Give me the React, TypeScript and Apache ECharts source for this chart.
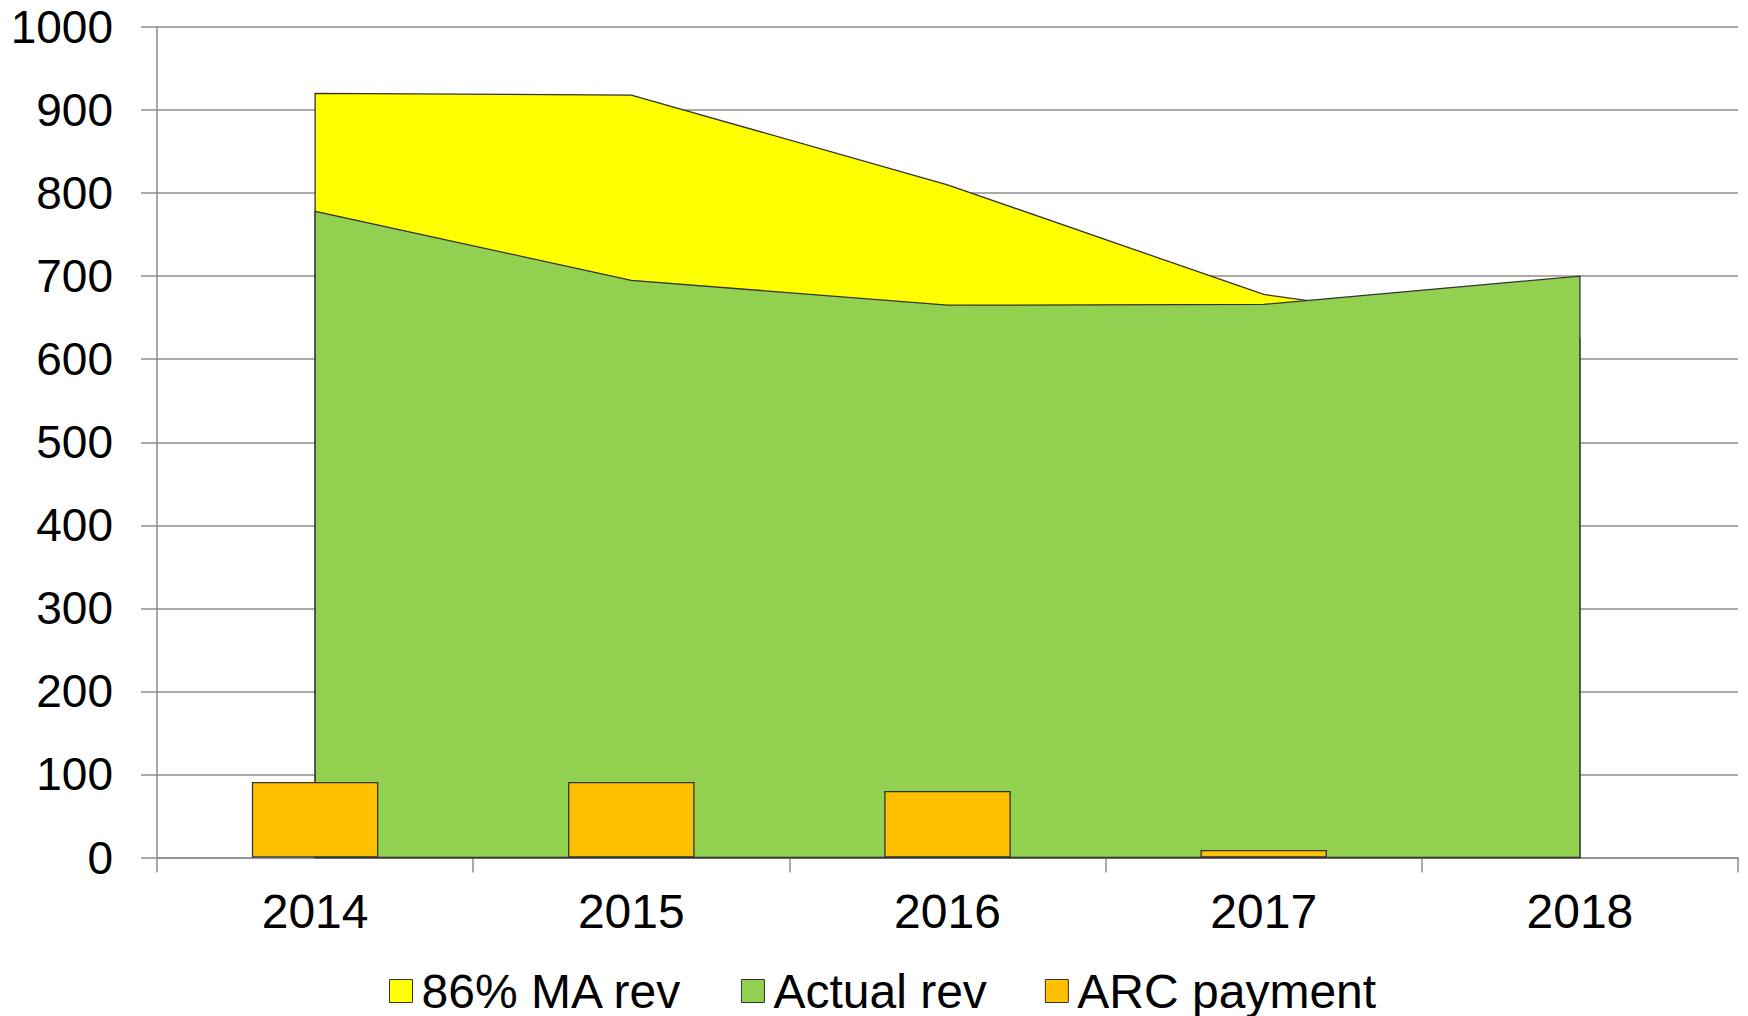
import React, { useEffect, useRef } from "react";
import * as echarts from "echarts";

const categories = ["2014", "2015", "2016", "2017", "2018"];
const maRev = [920, 918, 810, 678, 625];
const actualRev = [778, 695, 665, 666, 700];
const arcPayment: (number | null)[] = [91, 91, 80, 9, null];

const FONT = "'Liberation Sans', Arial, sans-serif";

function areaSeries(name: string, values: number[], color: string) {
  return {
    name,
    type: "custom",
    data: values.map((v, i) => [i, v]),
    encode: { x: 0, y: 1 },
    itemStyle: { color },
    renderItem: (params: any, api: any) => {
      if (params.dataIndex !== 0) return null;
      const pts: number[][] = [];
      pts.push(api.coord([0, 0]));
      values.forEach((v, i) => pts.push(api.coord([i, v])));
      pts.push(api.coord([values.length - 1, 0]));
      return {
        type: "polygon",
        shape: { points: pts },
        style: { fill: color, stroke: "#333333", lineWidth: 1.3 },
      };
    },
  };
}

export default function App() {
  const ref = useRef<HTMLDivElement>(null);
  useEffect(() => {
    const chart = echarts.init(ref.current!, null, { renderer: "svg" });
    chart.setOption({
      animation: false,
      backgroundColor: "#ffffff",
      textStyle: { fontFamily: FONT },
      grid: {
        left: 157,
        right: 10,
        top: 27,
        bottom: 158.5,
        containLabel: false,
        outerBoundsMode: "none",
      },
      legend: {
        left: 389,
        top: 967,
        padding: 0,
        icon: "rect",
        itemWidth: 23,
        itemHeight: 23,
        itemGap: 58,
        textStyle: {
          fontSize: 48,
          lineHeight: 48,
          color: "#000",
          fontFamily: FONT,
          padding: [0, 0, 0, 4],
        },
        data: [
          { name: "86% MA rev", itemStyle: { color: "#FFFF00", borderColor: "#333", borderWidth: 1 } },
          { name: "Actual rev", itemStyle: { color: "#92D050", borderColor: "#333", borderWidth: 1 } },
          { name: "ARC payment", itemStyle: { color: "#FFC000", borderColor: "#333", borderWidth: 1 } },
        ],
      },
      xAxis: {
        type: "category",
        data: categories,
        boundaryGap: true,
        axisLine: { show: true, lineStyle: { color: "#8c8c8c", width: 1.5 } },
        axisTick: { show: true, length: 15, lineStyle: { color: "#8c8c8c", width: 1.5 } },
        axisLabel: { fontSize: 48, color: "#000", margin: 30, fontFamily: FONT },
        splitLine: { show: false },
      },
      yAxis: {
        type: "value",
        min: 0,
        max: 1000,
        interval: 100,
        axisLine: { show: true, lineStyle: { color: "#8c8c8c", width: 1.5 } },
        axisTick: { show: true, length: 16, lineStyle: { color: "#8c8c8c", width: 1.5 } },
        axisLabel: {
          fontSize: 46,
          color: "#000",
          margin: 44,
          fontFamily: FONT,
          formatter: (v: number) => String(v),
        },
        splitLine: { show: true, lineStyle: { color: "#8c8c8c", width: 1.5 } },
      },
      series: [
        areaSeries("86% MA rev", maRev, "#FFFF00"),
        areaSeries("Actual rev", actualRev, "#92D050"),
        {
          name: "ARC payment",
          type: "bar",
          data: arcPayment,
          barWidth: "40%",
          itemStyle: { color: "#FFC000", borderColor: "#333333", borderWidth: 1.3 },
        },
      ],
    });
    return () => chart.dispose();
  }, []);
  return (
    <div
      ref={ref}
      style={{ position: "fixed", left: 0, top: 0, width: 1748, height: 1016 }}
    />
  );
}
